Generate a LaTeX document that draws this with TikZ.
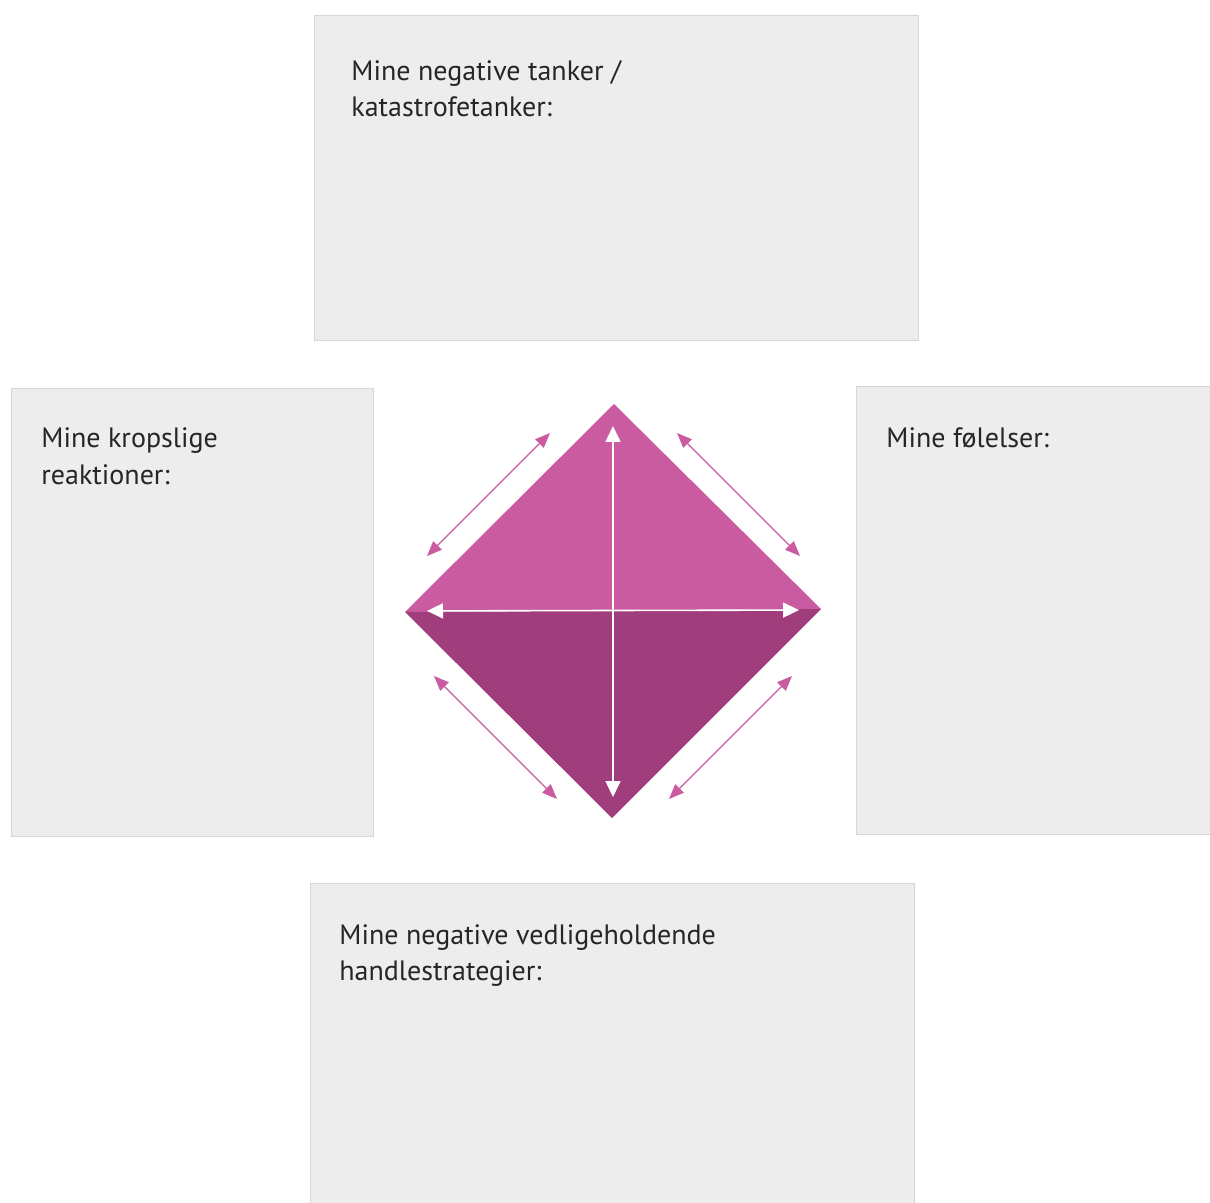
\documentclass[tikz,border=0pt]{standalone}
\usepackage{fontspec}
\setmainfont{PT Sans}
\usetikzlibrary{arrows.meta}

\definecolor{feltgraa}{HTML}{EDEDED}
\definecolor{feltkant}{HTML}{D6D6D6}
\definecolor{rosa}{HTML}{CB5BA0}
\definecolor{lilla}{HTML}{A03D7C}

\tikzset{
	felt/.style={fill=feltgraa, draw=feltkant, line width=0.5pt, inner sep=0pt, anchor=north west},
	felttekst/.style={anchor=base west, align=left, inner sep=0pt, text=black!85, font=\fontsize{14}{18}\selectfont},
	pil/.style={rosa, line width=0.55pt, {Triangle[length=7.5pt,width=6pt]}-{Triangle[length=7.5pt,width=6pt]}},
	hvidpil/.style={white, line width=0.8pt, {Triangle[length=8pt,width=7.5pt]}-{Triangle[length=8pt,width=7.5pt]}}
}

\begin{document}
\begin{tikzpicture}[x=0.5pt, y=-0.5pt]
		\useasboundingbox (0,0) rectangle (1210,1203);

		% de fire felter
		\node[felt, minimum width=302pt, minimum height=162.5pt] (tanker) at (314,15) {};
		\node[felt, minimum width=181pt, minimum height=224pt] (krop) at (11,388) {};
		\node[felt, minimum width=182pt, minimum height=224pt] (foelelser) at (856,386) {};
		\node[felt, minimum width=302pt, minimum height=170pt] (handling) at (310,883) {};

		% base west = grundlinjen af sidste linje
		\node[felttekst] (tankertekst) at (351,117) {Mine negative tanker /\\katastrofetanker:};
		\node[felttekst] (kroptekst) at (41,484) {Mine kropslige\\reaktioner:};
		\node[felttekst] (foelelsertekst) at (886,448) {Mine følelser:};
		\node[felttekst] (handlingtekst) at (339,980) {Mine negative vedligeholdende\\handlestrategier:};

		% diamanten
		\coordinate (dtop) at (614,404);
		\coordinate (dvenstre) at (405,612);
		\coordinate (dhoejre) at (821,609);
		\coordinate (dbund) at (612,818);

		\fill[rosa] (dvenstre) -- (dtop) -- (dhoejre) -- cycle;
		\fill[lilla] (dvenstre) -- (dhoejre) -- (dbund) -- cycle;

		\coordinate (lodop) at (613,404);
		\coordinate (lodned) at (613,818);
		\coordinate (vandv) at (405,611);
		\coordinate (vandh) at (821,610);
		\draw[hvidpil, shorten <=11pt, shorten >=10.5pt] (lodop) -- (lodned);
		\draw[hvidpil, shorten <=11pt, shorten >=11pt] (vandv) -- (vandh);

		% pile langs kanterne
		\coordinate (vo1) at (427,556);
		\coordinate (vo2) at (550,433);
		\coordinate (ho1) at (677,433);
		\coordinate (ho2) at (800,556);
		\coordinate (vn1) at (434,676);
		\coordinate (vn2) at (557,799);
		\coordinate (hn1) at (792,676);
		\coordinate (hn2) at (669,799);

		\draw[pil] (vo1) -- (vo2);
		\draw[pil] (ho1) -- (ho2);
		\draw[pil] (vn1) -- (vn2);
		\draw[pil] (hn1) -- (hn2);
	\end{tikzpicture}
\end{document}
